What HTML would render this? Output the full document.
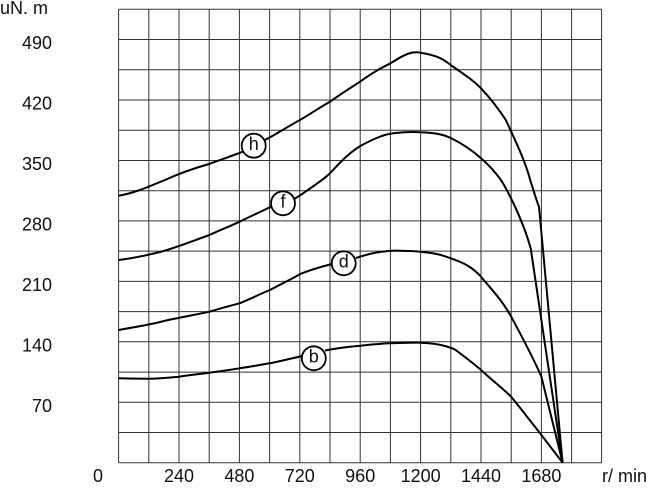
<!DOCTYPE html>
<html><head><meta charset="utf-8"><style>
body{margin:0;background:#fff}
text{font-family:"Liberation Sans",sans-serif;font-size:18px;fill:#111}
</style></head><body>
<svg width="650" height="484" viewBox="0 0 650 484" xmlns="http://www.w3.org/2000/svg">
<g stroke="#333" stroke-width="1" fill="none">
<path d="M118.6 9.3V462.7M148.8 9.3V462.7M179 9.3V462.7M209.2 9.3V462.7M239.4 9.3V462.7M269.6 9.3V462.7M299.8 9.3V462.7M330 9.3V462.7M360.2 9.3V462.7M390.4 9.3V462.7M420.6 9.3V462.7M450.8 9.3V462.7M481 9.3V462.7M511.2 9.3V462.7M541.4 9.3V462.7M571.6 9.3V462.7M601.6 9.3V462.7"/>
<path d="M118.6 9.3H601.6M118.6 39.5H601.6M118.6 69.8H601.6M118.6 100H601.6M118.6 130.2H601.6M118.6 160.5H601.6M118.6 190.7H601.6M118.6 220.9H601.6M118.6 251.1H601.6M118.6 281.4H601.6M118.6 311.6H601.6M118.6 341.8H601.6M118.6 372.1H601.6M118.6 402.3H601.6M118.6 432.5H601.6M118.6 462.7H601.6"/>
</g>
<g stroke="#000" stroke-width="2" fill="none" stroke-linejoin="round">
<path d="M118.6 195.7 C135 193 150 186 165 180 C180 173 195 168 209 164 C225 158 235 155 242.5 151.7 M265 140 C280 132 292 124 300 120 C315 111 322 106 330 101.7 C345 91 352 87 360 81.7 C375 71 383 67 390.5 63.3 C405 54 412 51 420.4 52.7 C435 55 442 58 450.7 65 C465 75 473 80 481 88.3 C492 100 498 108 505.8 120 C515 140 525 160 530.7 181.7 C535 195 538 205 539 206.7 L562.6 462.7"/>
<path d="M118.6 260 C135 258 148 255 160 252 C175 248 190 242 209.4 235 C225 228 233 225 239.6 221.7 C255 214 265 210 272 206 M294 199 C300 196 305 192 315 185 C322 180 328 176 334 169 C345 157 352 151 360.3 146 C375 138 385 134 395 133 C405 132 412 131.5 420.4 132.3 C435 133 442 134 450.7 138 C465 145 473 151 481 158.3 C492 168 500 177 505.8 188.3 C515 205 525 228 530.7 248.3 L562.6 462.7"/>
<path d="M118.6 330 C135 327 148 325 160 322 C175 318 195 315 209.4 311.7 C225 307 233 305 239.6 303.3 C255 297 262 293 270 290 C283 283 290 280 300.2 274 C310 270 320 267 332 264 M356 258 C365 255 372 253 380 252 C390 250.5 395 250.5 400 250.7 C410 251 415 251 420.4 251.7 C435 253 442 255 450.7 258.3 C465 263 473 268 481 276.7 C492 290 502 300 511.2 316.7 C522 337 532 355 541.4 376.7 L562.6 462.7"/>
<path d="M118.6 378.3 C130 378.6 140 378.7 148.4 378.7 C160 378.5 170 377.5 179 376.7 C190 375 200 374 209.4 372.7 C225 370.5 233 369.5 239.6 368.3 C255 366 262 364.5 270 363.3 C283 360.5 292 358.5 302 356 M325 350.5 C340 347.5 350 346.5 360.3 345.7 C375 344 383 343.5 390.5 343.3 C405 342.8 412 342.6 420.4 342.7 C430 343 438 344 445 346 C452 348 455 349 457 351 C465 357 473 363 481 370 C492 380 502 388 511.2 396.7 C522 410 532 423 541.4 435 L562.6 462.7"/>
</g>
<g stroke="#000" stroke-width="1.8" fill="#fff">
<circle cx="253.7" cy="145.7" r="12"/>
<circle cx="283" cy="203.3" r="12"/>
<circle cx="343.7" cy="263.3" r="12"/>
<circle cx="313.8" cy="358.3" r="12"/>
</g>
<g style="font-size:12px" text-anchor="middle">
<text x="253.7" y="150">h</text>
<text x="283" y="207.5">f</text>
<text x="343.7" y="267.5">d</text>
<text x="313.8" y="362.5">b</text>
</g>
<g text-anchor="end">
<text x="52" y="49">490</text>
<text x="52" y="109.5">420</text>
<text x="52" y="170">350</text>
<text x="52" y="230.5">280</text>
<text x="52" y="291">210</text>
<text x="52" y="351.5">140</text>
<text x="52" y="412">70</text>
</g>
<text x="0" y="14">uN. m</text>
<text x="93" y="482">0</text>
<g text-anchor="middle">
<text x="179" y="482">240</text>
<text x="239.4" y="482">480</text>
<text x="299.8" y="482">720</text>
<text x="360.2" y="482">960</text>
<text x="420.6" y="482">1200</text>
<text x="481" y="482">1440</text>
<text x="541.4" y="482">1680</text>
</g>
<text x="602" y="482">r/ min</text>
</svg>
</body></html>
